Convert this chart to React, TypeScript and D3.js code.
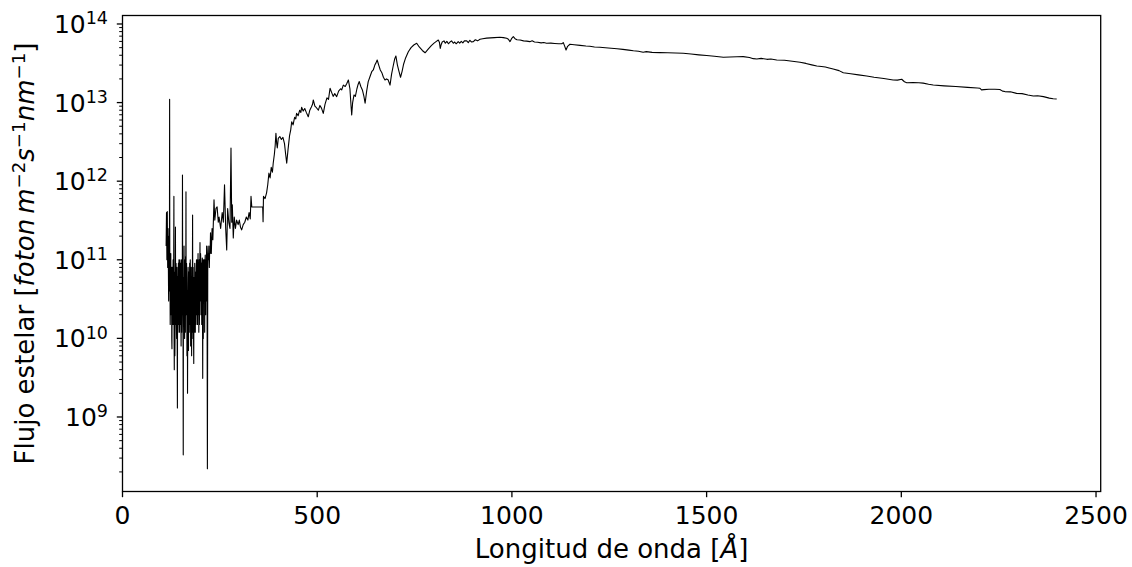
import React from 'react';
import * as d3 from 'd3';

// Wavelength (axis unit as labelled) and stellar photon flux
const wavelength = [
  112, 113, 114, 115, 116, 117, 118, 119, 120, 121, 122, 123, 124, 125, 126, 127, 128, 129, 130, 131,
  132, 133, 134, 135, 136, 137, 138, 139, 140, 141, 142, 143, 144, 145, 146, 147, 148, 149, 150, 151,
  152, 153, 154, 155, 156, 157, 158, 159, 160, 161, 162, 163, 164, 165, 166, 167, 168, 169, 170, 171,
  172, 173, 174, 175, 176, 177, 178, 179, 180, 181, 182, 183, 184, 185, 186, 187, 188, 189, 190, 191,
  192, 193, 194, 195, 196, 197, 198, 199, 200, 201, 202, 203, 204, 205, 206, 207, 208, 209, 210, 211,
  212, 213, 214, 215, 216, 217, 218, 219, 220, 221, 222, 223, 224, 225, 226, 228, 230, 232, 235, 237,
  240, 243, 246, 248, 252, 256, 259, 262, 265, 267.6, 270, 273, 276, 278.6, 280.5, 282, 284.5, 287, 290, 293,
  297, 300, 303, 306, 310, 314, 318, 322, 325, 328, 330, 332, 360, 361, 362, 366, 370, 373, 376, 379,
  382, 385, 387, 390, 392, 394, 396, 397.5, 400, 404, 408, 412, 416, 419, 421.7, 425, 429, 432, 434.5, 438,
  442, 445, 447, 451, 455, 458, 460, 464, 468, 472, 477, 481, 485, 488, 490, 494, 498, 503, 507, 511,
  515.6, 520, 525, 529, 533, 537, 541, 545, 550, 555, 560, 563, 567, 572, 576, 580, 584, 587, 588.6, 591,
  594.5, 598, 602, 605, 608, 612, 616, 620, 623, 627, 631, 635, 640, 644, 648, 651, 654, 658, 662, 666,
  670, 674, 678, 682, 687, 691, 695, 699, 702, 706, 710, 714, 718, 722, 727, 734, 741, 748, 755.5, 762,
  770, 777, 785, 793, 800, 806, 811, 814, 816, 818, 821, 825.6, 829, 833, 837, 841, 845, 849.5, 853, 857,
  862, 866, 870, 874, 878, 884, 888, 892, 896, 901, 906, 912, 918, 925, 935, 945, 955, 969, 978, 986.6,
  991, 995, 999, 1003.6, 1008, 1013, 1021, 1030, 1038, 1046, 1052, 1058, 1066, 1075, 1082, 1089, 1100, 1110, 1120, 1128,
  1132, 1135, 1139, 1143, 1149, 1160, 1175, 1190, 1200, 1212, 1226, 1240, 1255, 1270, 1285, 1300, 1312, 1325, 1337, 1345,
  1360, 1380, 1400, 1420, 1440, 1460, 1480, 1500, 1520, 1543, 1560, 1578, 1594, 1610, 1620, 1629, 1640, 1655, 1665, 1680,
  1700, 1720, 1740, 1755, 1770, 1783, 1795, 1805, 1812, 1825, 1840, 1851, 1870, 1890, 1911, 1930, 1955, 1979, 1990, 2001,
  2008, 2014, 2030, 2045, 2056, 2070, 2082, 2110, 2140, 2170, 2195, 2202, 2206, 2212, 2225, 2240, 2253, 2260, 2266, 2280,
  2296, 2310, 2325, 2339, 2350, 2365, 2380, 2390, 2399,
];

const flux = [
  1.5e11, 4.0e11, 1.0e11, 4.1e11, 8e10, 2.5e11, 6e10, 1.5e11, 2e11, 1.1e13, 6e10, 3e10, 1.2e11, 2e10, 8e10, 7.4e9, 5e10, 2.5e10, 1e11, 1.5e10,
  6.4e11, 4e9, 4e10, 1.2e10, 2.6e11, 2e10, 6e10, 1e10, 8e10, 1.3e9, 3e10, 5e10, 1.5e10, 1e11, 2e10, 6e10, 3e10, 9e10, 2e10, 7e10,
  1.2e10, 1.0e11, 1.2e12, 3e10, 3.3e8, 5e10, 1.5e11, 2e10, 8e10, 3e10, 1.1e11, 7.3e11, 2e10, 6e10, 1e10, 2e9, 4e10, 1.2e10, 7e10, 2.5e10,
  5e10, 1.5e10, 1e11, 8e9, 4e10, 2e10, 6e10, 1e10, 3.7e11, 1.2e10, 3e10, 4.8e9, 6e10, 2e10, 5e10, 1.2e10, 7e10, 2.5e10, 1e11, 3e10,
  8e10, 4e10, 1.2e11, 6e10, 1.2e10, 1e11, 5e10, 1.66e11, 8e10, 1e11, 3e10, 9e10, 6e10, 1.05e11, 3.1e9, 1e11, 5e10, 1e11, 6e10, 1.2e10,
  1e11, 8e10, 1.0e11, 3e10, 1.5e11, 1e11, 2.2e8, 1e11, 1.5e11, 1.0e11, 1.2e11, 8e10, 1.5e11, 1.2e11, 2.2e11, 1.2e11, 2.5e11, 1.8e11, 5.8e11, 3.2e11,
  4.5e11, 4.7e11, 3.0e11, 3.5e11, 2.5e11, 4e11, 3e11, 9e11, 2.5e11, 1.33e11, 4.5e11, 3e11, 2.5e11, 2.64e12, 3e11, 5e11, 1.9e11, 3.5e11, 2.5e11, 3.2e11,
  2.8e11, 3.2e11, 2.6e11, 2.4e11, 2.8e11, 3e11, 3.5e11, 3.2e11, 4e11, 3.3e11, 6.4e11, 4.7e11, 4.7e11, 3.05e11, 6.4e11, 6e11, 7.1e11, 9e11, 1.27e12, 1.1e12,
  1.5e12, 1.3e12, 1.69e12, 2.2e12, 2.8e12, 4.07e12, 3e12, 2.64e12, 3.5e12, 3.7e12, 3.4e12, 3.6e12, 3.0e12, 2.2e12, 1.69e12, 2.5e12, 3.8e12, 4.5e12, 5.7e12, 5.2e12,
  6.5e12, 6.2e12, 7.3e12, 6.8e12, 8e12, 7.5e12, 8.7e12, 7.8e12, 8.4e12, 7.5e12, 6.6e12, 8e12, 8.8e12, 9.5e12, 1.08e13, 9e12, 8.6e12, 8.0e12, 9.2e12, 8.5e12,
  7.3e12, 9.5e12, 1.15e13, 1.1e13, 1.52e13, 1.35e13, 1.2e13, 1.3e13, 1.19e13, 1.4e13, 1.5e13, 1.45e13, 1.67e13, 1.6e13, 1.75e13, 1.94e13, 1.5e13, 9e12, 6.95e12, 1.0e13,
  1.25e13, 1.2e13, 1.5e13, 1.7e13, 1.85e13, 1.6e13, 1.45e13, 1.2e13, 9.8e12, 1.4e13, 1.85e13, 2.1e13, 2.47e13, 2.6e13, 3.0e13, 3.2e13, 3.48e13, 3.0e13, 2.6e13, 2.4e13,
  2.1e13, 1.94e13, 2.0e13, 1.95e13, 1.67e13, 2.3e13, 2.9e13, 3.6e13, 3.92e13, 3.0e13, 2.5e13, 2.1e13, 2.5e13, 3.1e13, 3.7e13, 4.44e13, 5.0e13, 5.4e13, 5.68e13, 5.1e13,
  4.6e13, 4.3e13, 4.8e13, 5.3e13, 5.7e13, 6.0e13, 6.25e13, 5.8e13, 4.9e13, 5.4e13, 5.9e13, 6.1e13, 5.7e13, 6.0e13, 5.6e13, 5.9e13, 6.1e13, 5.68e13, 5.9e13, 5.6e13,
  5.96e13, 5.7e13, 6.0e13, 5.75e13, 6.1e13, 6.1e13, 5.8e13, 6.2e13, 5.9e13, 5.96e13, 6.3e13, 6.1e13, 6.38e13, 6.5e13, 6.6e13, 6.65e13, 6.7e13, 6.77e13, 6.7e13, 6.57e13,
  6.4e13, 5.96e13, 6.5e13, 6.9e13, 6.5e13, 6.3e13, 6.25e13, 6.1e13, 6.05e13, 5.96e13, 6.1e13, 5.9e13, 5.85e13, 5.75e13, 5.8e13, 5.68e13, 5.7e13, 5.65e13, 5.6e13, 5.6e13,
  5.8e13, 5.3e13, 4.67e13, 5.2e13, 5.52e13, 5.45e13, 5.35e13, 5.25e13, 5.2e13, 5.1e13, 5.05e13, 4.98e13, 4.92e13, 4.85e13, 4.75e13, 4.65e13, 4.57e13, 4.5e13, 4.36e13, 4.45e13,
  4.35e13, 4.32e13, 4.3e13, 4.27e13, 4.24e13, 4.15e13, 4.05e13, 3.97e13, 3.88e13, 3.77e13, 3.8e13, 3.83e13, 3.84e13, 3.75e13, 3.62e13, 3.59e13, 3.65e13, 3.55e13, 3.58e13, 3.48e13,
  3.45e13, 3.35e13, 3.26e13, 3.15e13, 3.02e13, 2.92e13, 2.88e13, 2.84e13, 2.78e13, 2.67e13, 2.55e13, 2.4e13, 2.33e13, 2.25e13, 2.18e13, 2.1e13, 2.02e13, 1.94e13, 1.93e13, 1.98e13,
  1.84e13, 1.79e13, 1.8e13, 1.79e13, 1.77e13, 1.71e13, 1.67e13, 1.63e13, 1.6e13, 1.56e13, 1.53e13, 1.52e13, 1.45e13, 1.46e13, 1.48e13, 1.48e13, 1.47e13, 1.4e13, 1.38e13, 1.37e13,
  1.31e13, 1.3e13, 1.25e13, 1.21e13, 1.22e13, 1.19e13, 1.14e13, 1.12e13, 1.11e13,
];

// Extra samples at half steps inside the noisy far-UV band
const uvExtraWavelength = [
  118.5, 119.5, 120.5, 121.5, 122.5, 123.5, 124.5, 125.5, 126.5, 127.5, 128.5, 129.5, 130.5, 131.5, 132.5, 133.5, 134.5, 135.5, 136.5, 137.5,
  138.5, 139.5, 140.5, 141.5, 142.5, 143.5, 144.5, 145.5, 146.5, 147.5, 148.5, 149.5, 150.5, 151.5, 152.5, 153.5, 154.5, 155.5, 156.5, 157.5,
  158.5, 159.5, 160.5, 161.5, 162.5, 163.5, 164.5, 165.5, 166.5, 167.5, 168.5, 169.5, 170.5, 171.5, 172.5, 173.5, 174.5, 175.5, 176.5, 177.5,
  178.5, 179.5, 180.5, 181.5, 182.5, 183.5, 184.5, 185.5, 186.5, 187.5, 188.5, 189.5, 190.5, 191.5, 192.5, 193.5, 194.5, 195.5, 196.5, 197.5,
  198.5, 199.5, 200.5, 201.5, 202.5, 203.5, 204.5, 205.5, 206.5, 207.5, 208.5, 209.5, 210.5, 211.5, 212.5, 213.5, 214.5, 215.5,
];
const uvExtraFlux = [
  3e10, 8e10, 4e10, 9e10, 1.5e10, 9e10, 2.5e10, 6e10, 1e10, 8e10, 1.5e10, 6e10, 3e10, 1e11, 1e10, 7e10, 6e9, 5e10, 1.5e10, 9e10,
  1.5e10, 5e10, 7e9, 6e10, 1.2e10, 9e10, 2e10, 5e10, 1.2e10, 1e11, 1.5e10, 4e10, 8e9, 1e11, 3e10, 2e10, 9e10, 1e10, 6e10, 1.5e10,
  4e10, 1e10, 1e11, 1.2e10, 5e10, 2e10, 9e10, 6e9, 4e10, 1.5e10, 8e10, 7e9, 5e10, 1.2e10, 9e10, 2e10, 6e10, 1.5e10, 8e10, 6e9,
  2e10, 7e10, 2e10, 8e10, 1e10, 5e10, 1.2e10, 9e10, 2e10, 6e10, 1.5e10, 8e10, 2e10, 1e11, 1.5e10, 7e10, 2e10, 9e10, 4e10, 1.5e10,
  8e10, 3e10, 1.2e11, 2e10, 8e10, 1.5e10, 9e10, 2e10, 6e10, 1e10, 9e10, 3e10, 1e11, 4e10, 1.15e11, 2e10, 8e10, 5e10,
];

const xTicks = [0, 500, 1000, 1500, 2000, 2500];
const yTickExponents = [9, 10, 11, 12, 13, 14];
const xDomain = [0, 2512];
const yDomain = [1.127e8, 1.282e14];

const FONT = 'DejaVu Sans';

export default function App() {
  const W = 1132;
  const H = 567;
  const left = 122.5;
  const right = 1100.7;
  const top = 15.5;
  const bottom = 491.5;

  const x = d3.scaleLinear().domain(xDomain).range([left, right]);
  const y = d3.scaleLog().domain(yDomain).range([bottom, top]);

  const pts: [number, number][] = wavelength
    .map((w, i) => [w, flux[i]] as [number, number])
    .concat(uvExtraWavelength.map((w, i) => [w, uvExtraFlux[i]] as [number, number]))
    .sort((a, b) => a[0] - b[0]);

  const line = d3
    .line<[number, number]>()
    .x((d) => x(d[0]))
    .y((d) => y(d[1]));

  const minorTicks: number[] = [];
  for (let e = 8; e <= 14; e++) {
    for (let k = 2; k <= 9; k++) {
      const v = k * Math.pow(10, e);
      if (v >= yDomain[0] && v <= yDomain[1]) minorTicks.push(v);
    }
  }

  const fs = 25;
  const sup = 17.5;
  const supShift = 8.8;
  const lfs = 26;
  const lsup = 18.2;
  const lsupShift = 9.2;

  return (
    <svg
      width={W}
      height={H}
      style={{ position: 'absolute', left: 0, top: 0, background: '#fff' }}
      fontFamily={FONT}
    >
      <rect x={0} y={0} width={W} height={H} fill="#fff" />
      <path d={line(pts) || ''} fill="none" stroke="#000" strokeWidth={1.1} strokeLinejoin="round" />

      {/* spines */}
      <rect x={left} y={top} width={right - left} height={bottom - top} fill="none" stroke="#000" strokeWidth={1.3} />

      {/* x ticks */}
      {xTicks.map((t) => (
        <g key={t}>
          <line x1={x(t)} x2={x(t)} y1={bottom} y2={bottom + 5.7} stroke="#000" strokeWidth={1.3} />
          <text x={x(t)} y={523.5} fontSize={fs} textAnchor="middle" fill="#000">
            {t}
          </text>
        </g>
      ))}

      {/* y minor ticks */}
      {minorTicks.map((v, i) => (
        <line key={i} x1={left - 3.3} x2={left} y1={y(v)} y2={y(v)} stroke="#000" strokeWidth={1} />
      ))}

      {/* y major ticks */}
      {yTickExponents.map((e) => {
        const yy = y(Math.pow(10, e));
        return (
          <g key={e}>
            <line x1={left - 5.7} x2={left} y1={yy} y2={yy} stroke="#000" strokeWidth={1.3} />
            <text x={108} y={yy + 9.1} fontSize={fs} textAnchor="end" fill="#000">
              <tspan>10</tspan>
              <tspan fontSize={sup} dy={-supShift}>
                {e}
              </tspan>
            </text>
          </g>
        );
      })}

      {/* x label */}
      <text x={(left + right) / 2} y={558} fontSize={lfs} textAnchor="middle" fill="#000">
        <tspan>Longitud de onda [</tspan>
        <tspan fontStyle="italic">Å</tspan>
        <tspan>]</tspan>
      </text>

      {/* y label */}
      <text transform={`translate(34, ${(top + bottom) / 2}) rotate(-90)`} fontSize={lfs} textAnchor="middle" fill="#000">
        <tspan>Flujo estelar [</tspan>
        <tspan fontStyle="italic">foton</tspan>
        <tspan fontSize={lfs * 0.6}> </tspan>
        <tspan fontStyle="italic">m</tspan>
        <tspan fontSize={lsup} dy={-lsupShift}>−2</tspan>
        <tspan fontStyle="italic" dy={lsupShift}>s</tspan>
        <tspan fontSize={lsup} dy={-lsupShift}>−1</tspan>
        <tspan fontStyle="italic" dy={lsupShift}>nm</tspan>
        <tspan fontSize={lsup} dy={-lsupShift}>−1</tspan>
        <tspan dy={lsupShift}>]</tspan>
      </text>
    </svg>
  );
}
